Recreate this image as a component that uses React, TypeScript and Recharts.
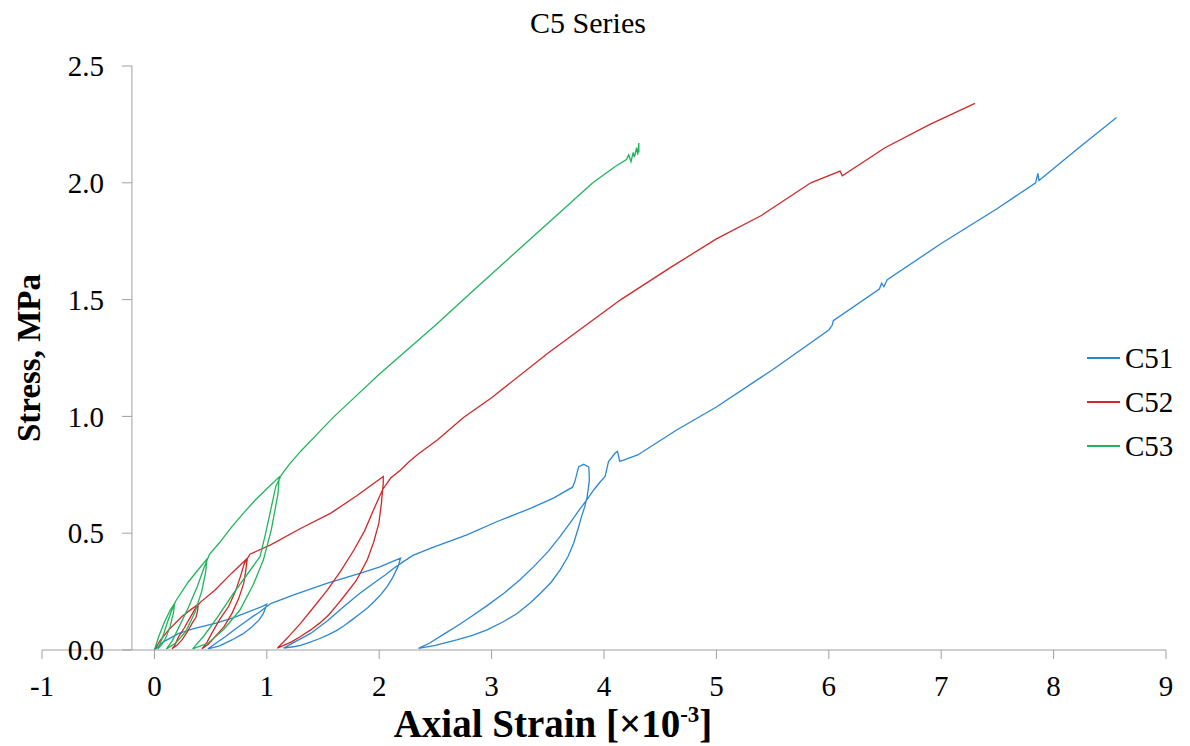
import { useEffect, useState } from 'react';
import { LineChart, Line, XAxis, YAxis, ReferenceLine, Legend } from 'recharts';

const SERIF = '"Liberation Serif", serif';
const AXIS = '#a0a0a0';

// C51 – strain [x10^-3] and stress [MPa], in test order (loops included)
const c51Strain = [
  0, 0.08, 0.217, 0.35, 0.54, 0.7, 0.84, 0.95, 1.0,
  0.985, 0.97, 0.93, 0.87, 0.79, 0.69, 0.58, 0.477,
  0.55, 0.63, 0.72, 0.81, 0.88, 0.94, 0.99, 1.04,
  1.24, 1.54, 1.835, 2.0, 2.1, 2.19,
  2.17, 2.12, 2.07, 2.02, 1.96, 1.9, 1.835, 1.76, 1.69, 1.62, 1.54, 1.46, 1.38, 1.3, 1.25, 1.15,
  1.25, 1.39, 1.54, 1.686, 1.82, 1.95, 2.05, 2.13, 2.205,
  2.3, 2.46, 2.78, 3.05, 3.35, 3.55, 3.72, 3.74, 3.775, 3.82, 3.865,
  3.87, 3.86, 3.85, 3.83, 3.8, 3.77, 3.73, 3.68, 3.61, 3.53, 3.435, 3.34, 3.23, 3.1, 2.96, 2.83, 2.69, 2.5, 2.35,
  2.45, 2.575, 2.7, 2.81, 2.96, 3.11, 3.25, 3.375, 3.5, 3.61, 3.7, 3.78, 3.85, 3.91, 3.96, 4.01,
  4.04, 4.1, 4.12, 4.14, 4.18, 4.3, 4.65, 5.0, 5.5, 6.0, 6.03, 6.04,
  6.45, 6.47, 6.49, 6.52, 7.0, 7.5, 7.84, 7.86, 7.87, 8.2, 8.56,
];
const c51Stress = [
  0, 0.035, 0.071, 0.092, 0.114, 0.138, 0.164, 0.185, 0.196,
  0.175, 0.157, 0.128, 0.1, 0.07, 0.043, 0.018, 0.005,
  0.03, 0.057, 0.09, 0.121, 0.145, 0.164, 0.183, 0.2,
  0.236, 0.286, 0.329, 0.355, 0.375, 0.393,
  0.36, 0.31, 0.271, 0.24, 0.21, 0.182, 0.157, 0.13, 0.105, 0.083, 0.064, 0.047, 0.033, 0.02, 0.015, 0.008,
  0.035, 0.071, 0.125, 0.186, 0.24, 0.286, 0.32, 0.35, 0.375,
  0.405, 0.436, 0.493, 0.55, 0.607, 0.65, 0.697, 0.72, 0.785, 0.795, 0.783,
  0.728, 0.69, 0.657, 0.615, 0.571, 0.52, 0.457, 0.4, 0.343, 0.29, 0.243, 0.2, 0.157, 0.12, 0.086, 0.063, 0.043, 0.02, 0.007,
  0.03, 0.068, 0.105, 0.14, 0.19, 0.243, 0.3, 0.357, 0.42, 0.486, 0.545, 0.6, 0.645, 0.686, 0.716, 0.743,
  0.807, 0.843, 0.85, 0.807, 0.814, 0.835, 0.943, 1.04, 1.2, 1.37, 1.39, 1.41,
  1.545, 1.57, 1.555, 1.585, 1.74, 1.89, 2.0, 2.04, 2.01, 2.14, 2.28,
];

// C52
const c52Strain = [
  0, 0.05, 0.127, 0.245, 0.33, 0.39,
  0.385, 0.37, 0.335, 0.29, 0.245, 0.2, 0.157,
  0.18, 0.216, 0.26, 0.305, 0.365, 0.41,
  0.54, 0.69, 0.827,
  0.81, 0.795, 0.75, 0.69, 0.62, 0.54, 0.48, 0.423,
  0.47, 0.51, 0.58, 0.66, 0.72, 0.765, 0.8, 0.85,
  1.034, 1.3, 1.57, 1.8, 2.036,
  2.036, 2.02, 1.997, 1.95, 1.894, 1.8, 1.686, 1.62, 1.55, 1.47, 1.39, 1.3, 1.22, 1.094,
  1.18, 1.3, 1.42, 1.54, 1.66, 1.775, 1.87, 1.95, 2.03,
  2.1, 2.19, 2.27, 2.35, 2.52, 2.75, 3.0, 3.5, 4.15, 4.6, 5.0, 5.4, 5.84,
  6.1, 6.12, 6.5, 6.9, 7.3,
];
const c52Stress = [
  0, 0.04, 0.086, 0.143, 0.175, 0.196,
  0.171, 0.14, 0.114, 0.075, 0.043, 0.02, 0.005,
  0.02, 0.057, 0.09, 0.128, 0.178, 0.205,
  0.257, 0.33, 0.393,
  0.33, 0.286, 0.22, 0.157, 0.1, 0.057, 0.025, 0.005,
  0.035, 0.071, 0.13, 0.186, 0.25, 0.314, 0.37, 0.41,
  0.45, 0.52, 0.586, 0.66, 0.743,
  0.714, 0.63, 0.543, 0.46, 0.386, 0.3, 0.229, 0.19, 0.15, 0.115, 0.086, 0.058, 0.035, 0.008,
  0.05, 0.114, 0.185, 0.257, 0.34, 0.428, 0.51, 0.6, 0.686,
  0.735, 0.771, 0.808, 0.84, 0.9, 0.995, 1.08, 1.27, 1.5, 1.64, 1.76, 1.86, 2.0,
  2.05, 2.03, 2.15, 2.25, 2.34,
];

// C53
const c53Strain = [
  0, 0.04, 0.09, 0.14, 0.18,
  0.17, 0.14, 0.1, 0.06, 0.03,
  0.07, 0.11, 0.15, 0.19,
  0.3, 0.4, 0.468,
  0.455, 0.42, 0.36, 0.28, 0.19, 0.107,
  0.16, 0.22, 0.3, 0.38, 0.44, 0.49,
  0.58, 0.69, 0.8, 0.9, 1.0, 1.11,
  1.1, 1.04, 0.97, 0.88, 0.76, 0.62, 0.48, 0.34,
  0.44, 0.56, 0.7, 0.82, 0.94, 0.99, 1.08, 1.13,
  1.2, 1.3, 1.45, 1.6, 1.8, 2.0, 2.25, 2.5, 2.75, 3.0, 3.3, 3.6, 3.9, 4.1,
  4.2, 4.22, 4.24, 4.26, 4.27, 4.29, 4.3, 4.31, 4.31,
];
const c53Stress = [
  0, 0.06, 0.12, 0.17, 0.2,
  0.16, 0.1, 0.05, 0.02, 0.004,
  0.05, 0.11, 0.165, 0.21,
  0.29, 0.35, 0.389,
  0.33, 0.25, 0.16, 0.08, 0.03, 0.005,
  0.04, 0.1, 0.18, 0.27, 0.35, 0.41,
  0.46, 0.528, 0.59, 0.643, 0.69, 0.74,
  0.67, 0.514, 0.386, 0.28, 0.17, 0.09, 0.03, 0.005,
  0.06, 0.14, 0.24, 0.32, 0.4, 0.5, 0.7, 0.75,
  0.795, 0.85, 0.925, 1.0, 1.09, 1.18, 1.285, 1.39, 1.5, 1.61, 1.74, 1.87, 2.0, 2.07,
  2.1, 2.12, 2.09, 2.13, 2.11, 2.15, 2.12, 2.17, 2.13,
];

const xTicks = [-1, 0, 1, 2, 3, 4, 5, 6, 7, 8, 9];
const yTicks = [0, 0.5, 1.0, 1.5, 2.0, 2.5];

const toPoints = (xs: number[], ys: number[]) => xs.map((x, i) => ({ x, y: ys[i] }));

const series = [
  { name: 'C51', color: '#2c87d3', data: toPoints(c51Strain, c51Stress) },
  { name: 'C52', color: '#d02828', data: toPoints(c52Strain, c52Stress) },
  { name: 'C53', color: '#20b45c', data: toPoints(c53Strain, c53Stress) },
];

// the value axis crosses the strain axis at -0.2, right of the plot's left edge
const Y_AXIS_X = 124;

const YTick = ({ y, payload }: any) => (
  <g>
    <line x1={Y_AXIS_X - 10} x2={Y_AXIS_X} y1={y} y2={y} stroke={AXIS} />
    <text x={Y_AXIS_X - 28} y={y} dy="0.35em" textAnchor="end" fontSize={29} fontFamily={SERIF} fill="#000">
      {Number(payload.value).toFixed(1)}
    </text>
  </g>
);

const XTick = ({ x, y, payload }: any) => (
  <text x={x} y={y} dy="0.71em" textAnchor="middle" fontSize={29} fontFamily={SERIF} fill="#000">
    {payload.value}
  </text>
);

const XTitle = () => (
  <text x={545} y={729} textAnchor="middle" fontSize={39} fontWeight="bold" fontFamily={SERIF} fill="#000">
    Axial Strain [×10
    <tspan dy={-15} fontSize={23}>-3</tspan>
    <tspan dy={15}>]</tspan>
  </text>
);

const YTitle = () => (
  <text
    x={21}
    y={350}
    transform="rotate(-90 21 350)"
    textAnchor="middle"
    dominantBaseline="central"
    fontSize={33}
    fontWeight="bold"
    fontFamily={SERIF}
    fill="#000"
  >
    Stress, MPa
  </text>
);

const LegendBox = () => (
  <div style={{ fontFamily: SERIF, fontSize: 29 }}>
    {series.map((s) => (
      <div key={s.name} style={{ display: 'flex', alignItems: 'center', height: 44 }}>
        <div style={{ width: 33, height: 2, background: s.color, marginRight: 5 }} />
        <span style={{ color: '#000' }}>{s.name}</span>
      </div>
    ))}
  </div>
);

export default function App() {
  // lay the text out again a little later, once the serif face is surely in
  const [pass, setPass] = useState(0);
  useEffect(() => {
    const a = setTimeout(() => setPass(1), 120);
    const b = setTimeout(() => setPass(2), 260);
    return () => {
      clearTimeout(a);
      clearTimeout(b);
    };
  }, []);

  return (
    <div key={pass} style={{ position: 'relative', width: 1174, height: 738, fontFamily: SERIF }}>
      <div
        style={{
          position: 'absolute',
          top: 0,
          left: 580,
          transform: 'translateX(-50%)',
          fontFamily: SERIF,
          fontSize: 30,
          lineHeight: '30px',
          whiteSpace: 'nowrap',
        }}
      >
        C5 Series
      </div>
      <LineChart width={1174} height={738} margin={{ top: 58, right: 16, bottom: 36, left: 34 }}>
        <XAxis
          type="number"
          dataKey="x"
          domain={[-1, 9]}
          ticks={xTicks}
          interval={0}
          height={60}
          stroke={AXIS}
          tickSize={9}
          tickMargin={16}
          tick={<XTick />}
          label={<XTitle />}
          allowDataOverflow
        />
        <YAxis
          type="number"
          dataKey="y"
          domain={[0, 2.5]}
          ticks={yTicks}
          interval={0}
          width={60}
          mirror
          axisLine={false}
          tickLine={false}
          tick={<YTick />}
          label={<YTitle />}
        />
        <ReferenceLine x={-0.2} stroke={AXIS} strokeWidth={1} ifOverflow="visible" />
        {series.map((s) => (
          <Line
            key={s.name}
            name={s.name}
            data={s.data}
            dataKey="y"
            type="linear"
            stroke={s.color}
            strokeWidth={1.3}
            dot={false}
            activeDot={false}
            isAnimationActive={false}
          />
        ))}
        <Legend
          layout="horizontal"
          verticalAlign="middle"
          align="center"
          content={<LegendBox />}
          wrapperStyle={{ left: 1079, top: 328, width: 100 }}
        />
      </LineChart>
    </div>
  );
}
